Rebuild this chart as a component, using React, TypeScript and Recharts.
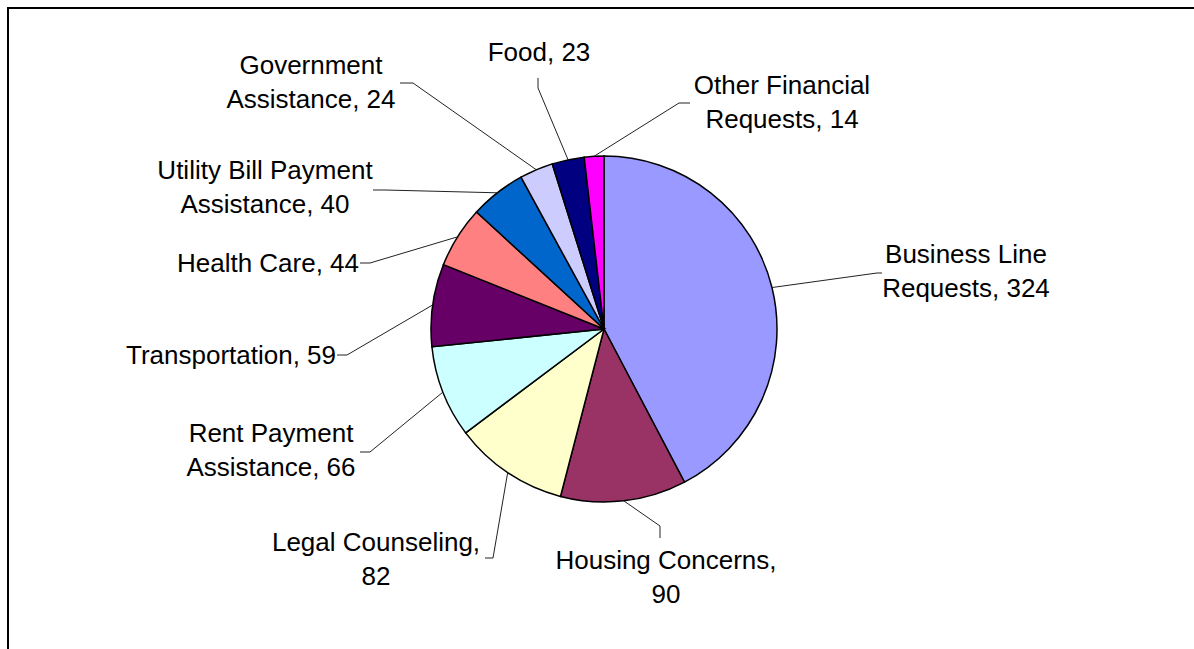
import { Cell, Pie, PieChart } from 'recharts';

const categories = [
  'Business Line Requests',
  'Housing Concerns',
  'Legal Counseling',
  'Rent Payment Assistance',
  'Transportation',
  'Health Care',
  'Utility Bill Payment Assistance',
  'Government Assistance',
  'Food',
  'Other Financial Requests',
];
const values = [324, 90, 82, 66, 59, 44, 40, 24, 23, 14];
const colors = [
  '#9999FF',
  '#993366',
  '#FFFFCC',
  '#CCFFFF',
  '#660066',
  '#FF8080',
  '#0066CC',
  '#CCCCFF',
  '#000080',
  '#FF00FF',
];
// number of words on the first line of each label (0 = single line)
const wrapAfter = [2, 2, 2, 2, 0, 0, 3, 1, 0, 2];

// label text centre (t), leader knee (k) and leader end (e), relative to pie centre
const labelLayout = [
  { tx: 362, ty: -58, kx: 273, ky: -56, ex: 278, ey: -56 },
  { tx: 62, ty: 248, kx: 56, ky: 197, ex: 56, ey: 209 },
  { tx: -228, ty: 230, kx: -111, ky: 229, ex: -119, ey: 229 },
  { tx: -333, ty: 121, kx: -234, ky: 123, ex: -244, ey: 123 },
  { tx: -373, ty: 26, kx: -257, ky: 26, ex: -267, ey: 26 },
  { tx: -336, ty: -66, kx: -234, ky: -66, ex: -244, ey: -66 },
  { tx: -339, ty: -142, kx: -219, ky: -139, ex: -231, ey: -139 },
  { tx: -293, ty: -247, kx: -191, ky: -246, ex: -204, ey: -246 },
  { tx: -65, ty: -277, kx: -66, ky: -241, ex: -66, ey: -251 },
  { tx: 178, ty: -227, kx: 75, ky: -226, ex: 86, ey: -226 },
];

const data = categories.map((name, i) => ({ name, value: values[i] }));

const RADIAN = Math.PI / 180;
const LINE_H = 34;

function renderLabel(props: any) {
  const { cx, cy, midAngle, outerRadius, index } = props;
  const sx = cx + outerRadius * Math.cos(-midAngle * RADIAN);
  const sy = cy + outerRadius * Math.sin(-midAngle * RADIAN);
  const l = labelLayout[index];
  const words = `${categories[index]}, ${values[index]}`.split(' ');
  const n = wrapAfter[index];
  const lines = n > 0 ? [words.slice(0, n).join(' '), words.slice(n).join(' ')] : [words.join(' ')];
  const y0 = cy + l.ty - ((lines.length - 1) * LINE_H) / 2;
  return (
    <g key={`label-${index}`}>
      <polyline
        points={`${sx},${sy} ${cx + l.kx},${cy + l.ky} ${cx + l.ex},${cy + l.ey}`}
        fill="none"
        stroke="#222"
        strokeWidth={1}
      />
      <text
        x={cx + l.tx}
        textAnchor="middle"
        fontSize={26}
        fill="#000"
        fontFamily="'Liberation Sans', Arial, sans-serif"
      >
        {lines.map((t, j) => (
          <tspan key={j} x={cx + l.tx} y={y0 + j * LINE_H + 9}>
            {t}
          </tspan>
        ))}
      </text>
    </g>
  );
}

export default function App() {
  return (
    <div
      style={{
        position: 'fixed',
        left: 0,
        top: 0,
        width: 1194,
        height: 649,
        overflow: 'hidden',
        background: '#fff',
      }}
    >
      <div
        style={{
          position: 'absolute',
          left: 7,
          top: 7,
          width: 1300,
          height: 800,
          border: '2px solid #000',
        }}
      />
      <div style={{ position: 'absolute', left: 0, top: 0 }}>
        <PieChart width={1194} height={649} margin={{ top: 0, right: 0, bottom: 0, left: 0 }}>
          <Pie
            data={data}
            dataKey="value"
            nameKey="name"
            cx={604}
            cy={329}
            outerRadius={173}
            startAngle={90}
            endAngle={-270}
            stroke="#000"
            strokeWidth={1.5}
            label={renderLabel}
            labelLine={false}
            isAnimationActive={false}
          >
            {data.map((d, i) => (
              <Cell key={d.name} fill={colors[i]} />
            ))}
          </Pie>
        </PieChart>
      </div>
    </div>
  );
}
